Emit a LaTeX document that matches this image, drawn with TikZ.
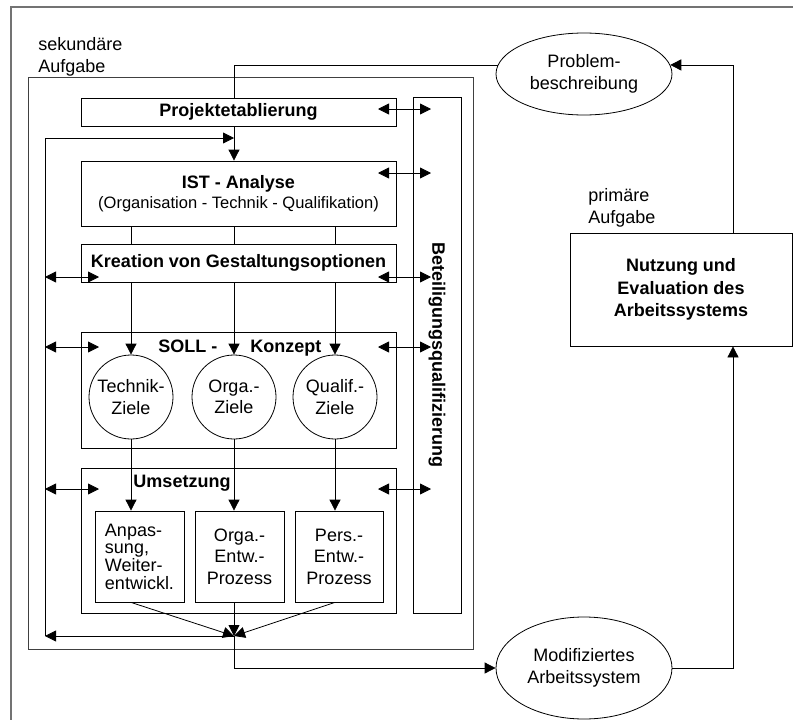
\documentclass[tikz,border=0pt]{standalone}
\usepackage{fontspec}
\setmainfont{Liberation Sans}
\usetikzlibrary{arrows.meta, shapes.geometric}

\begin{document}
\begin{tikzpicture}[
		x=1pt,	y=-1pt,
		font=\fontsize{18}{21.5}\selectfont,
		line width=0.8pt,
		>={Triangle[length=11pt, width=11pt]},
		stage/.style ={
			rectangle,	draw=black,	inner sep=0pt,	align=center
		},
		goal/.style ={
			circle,		draw=black,	inner sep=0pt,	align=center,
			minimum size=84pt
		},
		oval/.style={
			ellipse,	draw=black,	inner sep=0pt,	align=center,
			minimum width=176pt
		},
		heading/.style={font=\fontsize{18}{22.5}\selectfont\bfseries},
		outer/.style={draw=black!55, line width=1.6pt},
	]

	\useasboundingbox (0,0) rectangle (793,720);

	\newcommand{\xloop}{45}
	\newcommand{\xinl}{99}
	\newcommand{\xinr}{378}
	\newcommand{\xbet}{431}

	% frames
	\draw [outer] (11,720) -- (11,7) -- (793,7);
	\node (sek) at (250.5,363) [stage, draw=black!75, minimum width=445pt, minimum height=572pt] {};
	\node (sektext) at (38,57) [anchor=west, align=left, inner sep=0pt] {sekundäre\\Aufgabe};
	\node (primtext) at (588,208) [anchor=west, align=left, inner sep=0pt] {primäre\\Aufgabe};

	% nodes
	\node (proj) at (238.5,112) [stage, heading, minimum width=315pt, minimum height=28pt] {Projektetablierung};
	\node (ist) at (238.5,193.5) [stage, minimum width=315pt, minimum height=65pt]
		{\textbf{IST - Analyse}\\[-2pt]{\fontsize{16.5}{19}\selectfont (Organisation - Technik - Qualifikation)}};
	\node (krea) at (238.5,263) [stage, heading, minimum width=315pt, minimum height=38pt] {Kreation von Gestaltungsoptionen};
	\node (beteil) at (437,355) [stage, heading, rotate=-90, minimum width=516pt, minimum height=48pt] {Beteiligungsqualifizierung};

	\node (soll) at (238.5,390) [stage, minimum width=315pt, minimum height=116pt] {};
	\node (sollt) at (158,348) [anchor=west, heading, inner sep=0pt] {SOLL -\hspace{33pt}Konzept};
	\node (tz) at (131,397) [goal] {Technik-\\Ziele};
	\node (oz) at (234,397) [goal] {Orga.-\\Ziele};
	\node (qz) at (335,397) [goal] {Qualif.-\\Ziele};

	\node (ums) at (238.5,540.5) [stage, minimum width=315pt, minimum height=145pt] {};
	\node (umst) at (182,483) [heading, inner sep=0pt] {Umsetzung};
	\node (anp) at (139.5,556.5) [stage, align=left, minimum width=89pt, minimum height=91pt,
		font=\fontsize{18}{17.7}\selectfont] {Anpas-\\sung,\\Weiter-\\entwickl.};
	\node (oep) at (239.5,556.5) [stage, minimum width=89pt, minimum height=91pt] {Orga.-\\Entw.-\\Prozess};
	\node (pep) at (339,556.5) [stage, minimum width=88pt, minimum height=91pt] {Pers.-\\Entw.-\\Prozess};

	\node (prob) at (584,74) [oval, minimum height=82pt] {Problem-\\beschreibung};
	\node (nutz) at (681,289.5) [stage, heading, minimum width=222pt, minimum height=113pt] {Nutzung und\\Evaluation des\\Arbeitssystems};
	\node (mod) at (584,668) [oval, minimum height=102pt] {Modifiziertes\\Arbeitssystem};

	\coordinate (feed) at (234,138);
	\coordinate (merge) at (234,636);
	\coordinate (loop) at (\xloop,636);

	% interconnections
	\draw (prob.174) -| (proj.north -| oz);
	\draw [->] (proj.south -| oz) -- (ist.north -| oz);
	\foreach \g in {tz,oz,qz}{
		\draw (ist.south -| \g) -- (krea.north -| \g);
		\draw [->] (krea.south -| \g) -- (\g.north);
	}
	\foreach \g/\b in {tz/anp, oz/oep, qz/pep}{
		\draw [->] (\g.south) -- (\g.south |- \b.north);
		\draw [->] (\b.south -| \g) -- (merge);
	}

	\draw [->] (merge) -- (loop);
	\draw [->] (loop) |- (feed);
	\draw [->] (merge) |- (mod);
	\draw [->] (mod) -| ([xshift=52pt]nutz.south);
	\draw [->] ([xshift=52pt]nutz.north) |- (prob.6);

	% participation
	\foreach \y in {109,173,277,347,489}
		\draw [<->] (\xinr,\y) -- (\xbet,\y);
	\foreach \y in {277,347,489}
		\draw [<->] (\xloop,\y) -- (\xinl,\y);

\end{tikzpicture}
\end{document}
